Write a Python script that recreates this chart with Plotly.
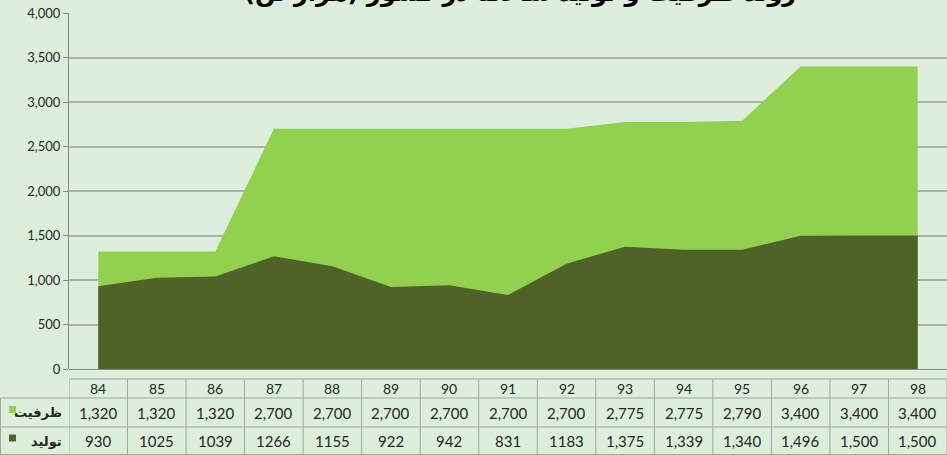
import plotly.graph_objects as go

years = ["84", "85", "86", "87", "88", "89", "90", "91", "92", "93", "94", "95", "96", "97", "98"]
capacity = [1320, 1320, 1320, 2700, 2700, 2700, 2700, 2700, 2700, 2775, 2775, 2790, 3400, 3400, 3400]
production = [930, 1025, 1039, 1266, 1155, 922, 942, 831, 1183, 1375, 1339, 1340, 1496, 1500, 1500]
capacity_text = ["1,320", "1,320", "1,320", "2,700", "2,700", "2,700", "2,700", "2,700", "2,700",
                 "2,775", "2,775", "2,790", "3,400", "3,400", "3,400"]
production_text = ["930", "1025", "1039", "1266", "1155", "922", "942", "831", "1183",
                   "1,375", "1,339", "1,340", "1,496", "1,500", "1,500"]
row_names = ["ظرفیت", "تولید"]
title_text = "روند ظرفیت و تولید سالانه در کشور (هزار تن)"

W, H = 947, 455
ML, MR, MT, MB = 69, 0, 13, 86
PH = H - MT - MB
PW = W - ML - MR

BG = "#DDEFDC"
LIGHT = "#92D050"
DARK = "#4F6228"
GRID = "#A8B2A7"
AXIS = "#868686"
BORDER = "#A3A3A3"
FONT = "Lato, 'Open Sans', sans-serif"

def py(px):
    # pixel y (from top of page) -> paper y
    return (H - MB - px) / PH

def pxp(px):
    return (px - ML) / PW

fig = go.Figure()
fig.add_trace(go.Scatter(x=years, y=capacity, mode="lines", line=dict(width=0, color=LIGHT),
                         fill="tozeroy", fillcolor=LIGHT, name=row_names[0], hoverinfo="skip"))
fig.add_trace(go.Scatter(x=years, y=production, mode="lines", line=dict(width=0, color=DARK),
                         fill="tozeroy", fillcolor=DARK, name=row_names[1], hoverinfo="skip"))

shapes = []
annotations = []
n = len(years)
y_head_top, y_r1_top, y_r2_top, y_bot = 379, 398, 427, 455
# horizontal lines
shapes.append(dict(type="line", xref="x", yref="paper", x0=-0.5, x1=n - 0.5,
                   y0=py(y_head_top), y1=py(y_head_top), line=dict(color=BORDER, width=1)))
for yy in (y_r1_top, y_r2_top, y_bot - 0.5):
    shapes.append(dict(type="line", xref="paper", yref="paper", x0=pxp(0.5), x1=1,
                       y0=py(yy), y1=py(yy), line=dict(color=BORDER, width=1)))
# vertical lines
for i in range(n + 1):
    shapes.append(dict(type="line", xref="x", yref="paper", x0=i - 0.5, x1=i - 0.5,
                       y0=py(y_head_top), y1=py(y_bot), line=dict(color=BORDER, width=1)))
shapes.append(dict(type="line", xref="paper", yref="paper", x0=pxp(0.5), x1=pxp(0.5),
                   y0=py(y_r1_top), y1=py(y_bot), line=dict(color=BORDER, width=1)))

# cell texts (x given as category index)
for i, yr in enumerate(years):
    annotations.append(dict(x=i, xref="x", xanchor="center", y=py((y_head_top + y_r1_top) / 2),
                            yref="paper", yanchor="middle", text=yr, showarrow=False,
                            font=dict(size=14, color="#262626", family=FONT)))
    annotations.append(dict(x=i, xref="x", xanchor="center", y=py((y_r1_top + y_r2_top) / 2),
                            yref="paper", yanchor="middle", text=capacity_text[i], showarrow=False,
                            font=dict(size=15, color="#262626", family=FONT)))
    annotations.append(dict(x=i, xref="x", xanchor="center", y=py((y_r2_top + y_bot) / 2),
                            yref="paper", yanchor="middle", text=production_text[i], showarrow=False,
                            font=dict(size=15, color="#262626", family=FONT)))

# row labels with legend keys
for name, color, (t, b) in zip(row_names, [LIGHT, DARK], [(y_r1_top, y_r2_top), (y_r2_top, y_bot)]):
    c = (t + b) / 2
    shapes.append(dict(type="rect", xref="paper", yref="paper", x0=pxp(9), x1=pxp(16),
                       y0=py(c - 3 + 3.5), y1=py(c - 3 - 3.5), line=dict(width=0), fillcolor=color))
    annotations.append(dict(x=pxp(64), xref="paper", xanchor="right", y=py(c), yref="paper",
                            yanchor="middle", text="<b>" + name + "</b>", showarrow=False,
                            font=dict(size=13, color="#262626", family="DejaVu Sans")))

# title (cut off at top, as in the reference)
annotations.append(dict(x=pxp(520), xref="paper", xanchor="center", y=1, yref="paper",
                        yanchor="bottom", yshift=4,
                        text="<b>" + title_text + "</b>", showarrow=False,
                        font=dict(size=24, color="#000000", family="DejaVu Sans")))

fig.update_layout(
    width=W, height=H,
    margin=dict(l=ML, r=MR, t=MT, b=MB, autoexpand=False),
    paper_bgcolor=BG, plot_bgcolor=BG,
    showlegend=False,
    shapes=shapes, annotations=annotations,
    xaxis=dict(type="category", range=[-0.5, n - 0.5], showticklabels=False, showgrid=False,
               showline=False, zeroline=False, ticks="", automargin=False),
    yaxis=dict(range=[0, 4000], dtick=500, tickformat=",d", showgrid=True, gridcolor=GRID,
               gridwidth=1.5, showline=True, linecolor=AXIS, linewidth=1, ticks="outside",
               ticklen=5, tickcolor=AXIS, zeroline=True, zerolinecolor=AXIS, zerolinewidth=1,
               automargin=False, tickfont=dict(size=13, color="#262626", family=FONT)),
)

fig.write_html("out.html",
               config={"displayModeBar": False},
               post_script="document.body.style.margin='0';document.body.style.padding='0';"
                           "document.body.style.overflow='hidden';"
                           "document.body.style.background='" + BG + "';")
